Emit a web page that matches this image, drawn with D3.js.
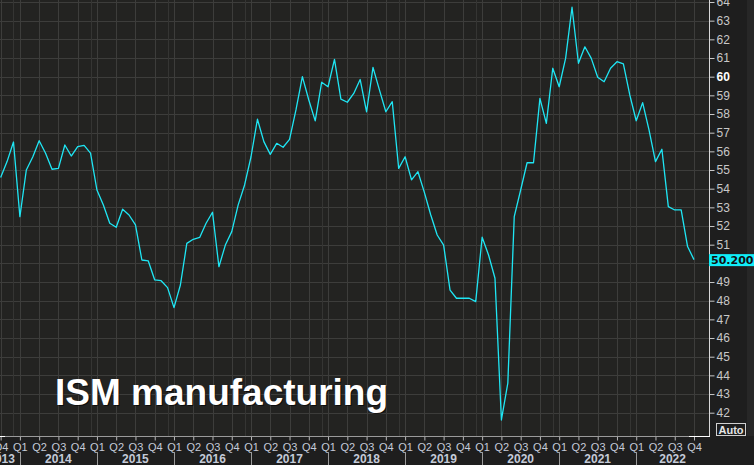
<!DOCTYPE html>
<html><head><meta charset="utf-8">
<script src="https://cdn.jsdelivr.net/npm/d3@7"></script>
<style>
html,body{margin:0;padding:0;background:#1e1e1e;}
svg{display:block;}
</style></head><body>
<svg id="c" width="754" height="465"></svg>
<script>
// ---- data (monthly, first point = Oct 2013) ----
const firstYear = 2013;
const firstMonth = 10;
const pmi = [
  54.6, 55.45, 56.5,                                                      // 2013 Oct-Dec
  52.5, 55.0, 55.7, 56.57, 55.9, 55.04, 55.09, 56.34, 55.75, 56.25, 56.32, 55.9,   // 2014
  53.93, 53.13, 52.15, 51.93, 52.9, 52.59, 52.06, 50.18, 50.13, 49.11, 49.07, 48.7, // 2015
  47.63, 48.84, 51.07, 51.29, 51.39, 52.15, 52.74, 49.82, 50.98, 51.7, 53.13, 54.2, // 2016
  55.71, 57.72, 56.52, 55.84, 56.43, 56.22, 56.64, 58.22, 60.0, 58.75, 57.63, 59.7, // 2017
  59.46, 60.93, 58.8, 58.63, 59.1, 59.85, 58.12, 60.5, 59.29, 58.12, 58.66, 55.09,  // 2018
  55.71, 54.47, 54.91, 53.8, 52.59, 51.52, 50.98, 48.57, 48.13, 48.13, 48.13, 47.95, // 2019
  51.4, 50.45, 49.2, 41.61, 43.58, 52.5, 53.93, 55.39, 55.39, 58.84, 57.5, 60.45,   // 2020
  59.46, 60.98, 63.72, 60.72, 61.6, 60.98, 59.97, 59.73, 60.45, 60.8, 60.68, 59.02, // 2021
  57.64, 58.61, 57.14, 55.45, 56.11, 53.04, 52.86, 52.86, 50.9, 50.2                // 2022 Jan-Oct
];
const yTicks = [42,43,44,45,46,47,48,49,50,51,52,53,54,55,56,57,58,59,60,61,62,63,64];
const boldTicks = [60];
const hiddenTicks = [50];
const quarterNames = ["Q1","Q2","Q3","Q4"];
const years = [2013,2014,2015,2016,2017,2018,2019,2020,2021,2022];
const lastLabel = "50.200";
const titleText = "ISM manufacturing";

// ---- layout ----
const W = 754, H = 465, plotR = 709, plotB = 436;
const svg = d3.select("#c");
const n = pmi.length;
const x = d3.scaleLinear().domain([0, n - 1]).range([0.64, 694]);
const y = d3.scaleLinear().domain([64, 42]).range([2, 412.7]);

const monthOf = i => (firstMonth - 1 + i) % 12 + 1;
const yearOf = i => firstYear + Math.floor((firstMonth - 1 + i) / 12);
const idxOf = (yr, mo) => (yr - firstYear) * 12 + (mo - firstMonth);

const quarterIdx = d3.range(n).filter(i => (monthOf(i) - 1) % 3 === 0);
const janIdx = years.map(yr => idxOf(yr, 1)).filter(i => i >= 0);

// backgrounds
svg.append("rect").attr("width", W).attr("height", H).attr("fill", "#1e1e1e");
svg.append("rect").attr("x", 747).attr("y", 0).attr("width", 7).attr("height", plotB).attr("fill", "#272727");
svg.append("rect").attr("x", 0).attr("y", 0).attr("width", plotR).attr("height", plotB).attr("fill", "#232321");

svg.append("defs").append("clipPath").attr("id", "plotclip")
  .append("rect").attr("x", 0).attr("y", 0).attr("width", plotR).attr("height", plotB);

const grid = svg.append("g").attr("clip-path", "url(#plotclip)");
// horizontal grid
grid.selectAll("line.h").data(yTicks).join("line")
  .attr("x1", 0).attr("x2", plotR)
  .attr("y1", d => Math.round(y(d)) + 0.5).attr("y2", d => Math.round(y(d)) + 0.5)
  .attr("stroke", "#3d3d3b").attr("stroke-width", 1);
// vertical quarter grid
grid.selectAll("line.v").data(quarterIdx).join("line")
  .attr("x1", d => Math.round(x(d)) + 0.5).attr("x2", d => Math.round(x(d)) + 0.5)
  .attr("y1", 0).attr("y2", plotB)
  .attr("stroke", "#3d3d3b").attr("stroke-width", 1);
// year grid (at last month of each year)
grid.selectAll("line.yv").data(janIdx.map(i => i - 1).filter(i => i >= 0)).join("line")
  .attr("x1", d => Math.round(x(d)) + 0.5).attr("x2", d => Math.round(x(d)) + 0.5)
  .attr("y1", 0).attr("y2", plotB)
  .attr("stroke", "#353533").attr("stroke-width", 1);

// title (with soft shadow)
svg.append("text").attr("x", 56).attr("y", 406)
  .attr("font-family", "Liberation Sans, Arial, sans-serif").attr("font-weight", "bold")
  .attr("font-size", 37).attr("fill", "#000").attr("opacity", 0.6).text(titleText);
svg.append("text").attr("x", 55).attr("y", 405)
  .attr("font-family", "Liberation Sans, Arial, sans-serif").attr("font-weight", "bold")
  .attr("font-size", 37).attr("fill", "#ffffff").text(titleText);

// data line
const line = d3.line().x((d, i) => x(i)).y(d => y(d));
grid.append("path").datum(pmi).attr("d", line)
  .attr("fill", "none").attr("stroke", "#1fe6f4").attr("stroke-width", 1.3)
  .attr("stroke-linejoin", "round");

// right axis
const yAxis = d3.axisRight(y).tickValues(yTicks).tickSize(5).tickPadding(2)
  .tickFormat(d => hiddenTicks.includes(d) ? "" : d);
const ya = svg.append("g").attr("transform", `translate(${plotR + 0.5},0)`).call(yAxis);
ya.select(".domain").remove();
ya.selectAll(".tick line").attr("stroke", "#c8c8c8");
ya.selectAll(".tick text")
  .attr("font-family", "Liberation Sans, Arial, sans-serif").attr("font-size", 12)
  .attr("fill", d => boldTicks.includes(d) ? "#ffffff" : "#c8c8c8")
  .attr("font-weight", d => boldTicks.includes(d) ? "bold" : "normal");
svg.append("line").attr("x1", plotR + 0.5).attr("x2", plotR + 0.5).attr("y1", 0).attr("y2", plotB + 1)
  .attr("stroke", "#d8d8d8");

// bottom axis
const xAxis = d3.axisBottom(x).tickValues(quarterIdx).tickSize(4).tickPadding(3)
  .tickFormat(i => quarterNames[Math.floor((monthOf(i) - 1) / 3)]);
const xa = svg.append("g").attr("transform", `translate(0,${plotB + 0.5})`).call(xAxis);
xa.select(".domain").remove();
xa.selectAll(".tick line").attr("stroke", "#b8b8b8");
xa.selectAll(".tick text")
  .attr("font-family", "Liberation Sans, Arial, sans-serif").attr("font-size", 11)
  .attr("fill", "#c4cad8");
svg.append("line").attr("x1", 0).attr("x2", plotR + 1).attr("y1", plotB + 0.5).attr("y2", plotB + 0.5)
  .attr("stroke", "#9a9a9a");
svg.append("line").attr("x1", 0).attr("x2", 5).attr("y1", plotB + 0.5).attr("y2", plotB + 0.5)
  .attr("stroke", "#ffffff");
svg.append("line").attr("x1", 689).attr("x2", plotR + 1).attr("y1", plotB + 0.5).attr("y2", plotB + 0.5)
  .attr("stroke", "#ffffff");

// year separators and labels
svg.selectAll("line.ysep").data(janIdx.filter(i => i > 0)).join("line")
  .attr("x1", d => Math.round(x(d)) + 0.5).attr("x2", d => Math.round(x(d)) + 0.5)
  .attr("y1", 452).attr("y2", H)
  .attr("stroke", "#9a9a9a");
years.forEach(yr => {
  const a = x(idxOf(yr, 1)), b = x(idxOf(yr + 1, 1));
  const lo = Math.max(a, 0), hi = Math.min(b, plotR);
  const t = svg.append("text").attr("y", 463)
    .attr("font-family", "Liberation Sans, Arial, sans-serif").attr("font-weight", "bold")
    .attr("font-size", 12).attr("fill", "#c4cad8").text(yr);
  if (a < 0) t.attr("x", hi - 5).attr("text-anchor", "end");
  else t.attr("x", (lo + hi) / 2).attr("text-anchor", "middle");
});

// last value label
const ly = y(pmi[n - 1]);
svg.append("rect").attr("x", plotR).attr("y", ly - 5.5).attr("width", W - plotR).attr("height", 12)
  .attr("fill", "#10eef8");
svg.append("text").attr("x", 711).attr("y", ly + 0.5).attr("dominant-baseline", "central")
  .attr("font-family", "DejaVu Sans, Verdana, sans-serif").attr("font-weight", "bold")
  .attr("font-size", 11).attr("fill", "#101010").text(lastLabel);

// Auto box
svg.append("rect").attr("x", 716.5).attr("y", 423.5).attr("width", 29).attr("height", 12)
  .attr("fill", "none").attr("stroke", "#d0d0d0");
svg.append("text").attr("x", 731).attr("y", 433.5).attr("text-anchor", "middle")
  .attr("font-family", "Liberation Sans, Arial, sans-serif").attr("font-weight", "bold")
  .attr("font-size", 11).attr("fill", "#e6e6e6").text("Auto");
</script>
</body></html>
